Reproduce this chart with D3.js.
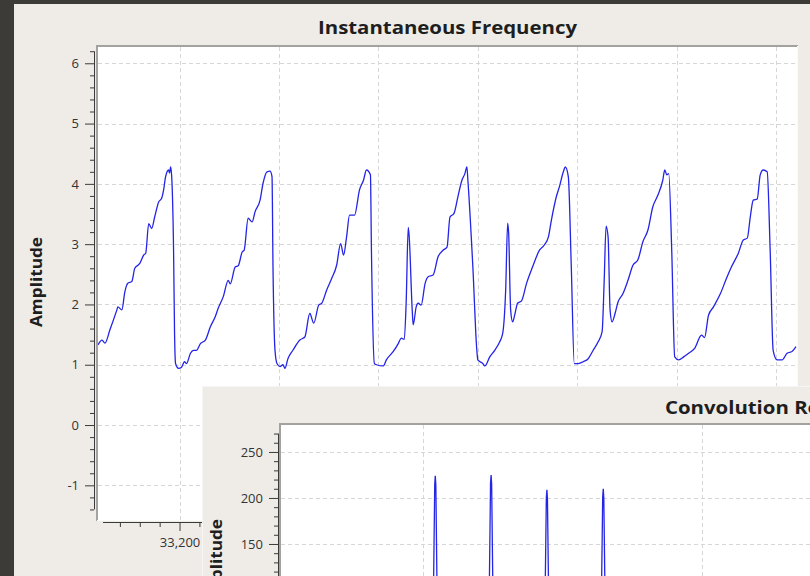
<!DOCTYPE html>
<html><head><meta charset="utf-8">
<script src="https://cdn.jsdelivr.net/npm/d3@7"></script>
<style>
html,body{margin:0;padding:0;background:#3c3b37;}
svg{display:block;}
text{font-family:"Open Sans","DejaVu Sans",sans-serif;}
</style></head>
<body>
<svg id="c" width="810" height="576"></svg>
<script>
// ---- data: Instantaneous Frequency (sample index vs amplitude) ----
const freqX = [33118,33122,33125,33130,33137,33138,33142,33145,33148,33152,33155,33160,33164,33166,33169,33172,33175,33179,33182,33184,33186,33189,33190,33191,33192,33194,33195,33196,33199,
33202,33205,33207,33211,33214,33217,33221,33226,33231,33236,33239,33244,33249,33251,33256,33259,33263,33265,33269,33273,33276,33281,33284,33288,33291,33293,33294,33296,33298,
33301,33304,33306,33309,33314,33321,33326,33331,33335,33340,33343,33348,33353,33358,33362,33365,33368,33371,33376,33381,33385,33388,33392,33393,33396,33398,
33405,33408,33415,33420,33423,33426,33428,33430,33431,33434,33435,33438,33440,33443,33447,33450,33455,33460,33465,33469,33472,33476,33480,33484,33487,33489,33490,33495,33499,33500,
33505,33507,33512,33517,33522,33525,33528,33530,33531,33533,33535,33537,33540,33544,33549,33555,33562,33567,33571,33574,33579,33582,33586,33588,33591,33594,33597,
33601,33606,33611,33616,33621,33625,33627,33629,33631,33633,33635,33638,33641,33646,33651,33656,33661,33666,33671,33676,33681,33686,33688,33690,33692,33695,33698,
33702,33707,33712,33718,33725,33728,33732,33737,33744,33750,33755,33762,33767,33771,33774,33777,33781,33784,33787,33791,33794,33797,
33801,33806,33811,33816,33820];
const freqY = [1.33,1.41,1.36,1.58,1.91,1.96,1.91,2.21,2.35,2.38,2.60,2.68,2.82,2.85,3.34,3.26,3.45,3.70,3.76,3.90,4.12,4.23,4.18,4.28,4.15,2.90,1.52,1.02,0.94,
0.96,1.05,1.02,1.19,1.24,1.24,1.35,1.41,1.63,1.80,1.94,2.13,2.40,2.34,2.62,2.64,2.87,2.90,3.43,3.37,3.54,3.73,4.01,4.20,4.21,4.12,2.62,1.24,1.02,
0.97,1.00,0.94,1.10,1.24,1.41,1.46,1.85,1.69,1.99,2.02,2.24,2.43,2.65,3.01,2.82,3.12,3.48,3.48,3.90,4.06,4.23,4.15,2.90,1.02,1.00,
0.98,1.08,1.22,1.35,1.44,1.42,2.07,3.28,3.12,1.91,1.66,1.96,2.02,1.99,2.35,2.46,2.49,2.79,2.90,2.95,3.45,3.51,3.79,4.06,4.17,4.28,4.06,2.62,1.24,1.08,
1.02,0.98,1.13,1.24,1.38,1.52,2.24,3.35,3.18,1.91,1.71,1.82,2.02,2.06,2.35,2.62,2.90,2.99,3.12,3.40,3.79,3.95,4.20,4.28,4.12,2.62,1.02,
1.02,1.05,1.10,1.24,1.38,1.55,2.35,3.30,3.12,1.91,1.71,1.85,2.04,2.18,2.40,2.65,2.74,3.04,3.23,3.62,3.81,4.06,4.23,4.15,4.17,2.90,1.13,
1.08,1.13,1.19,1.27,1.49,1.45,1.82,1.96,2.18,2.43,2.62,2.85,3.07,3.10,3.45,3.73,3.75,4.15,4.23,4.20,2.90,1.24,
1.08,1.08,1.19,1.22,1.30];
const freqYTicks = [-1,0,1,2,3,4,5,6];
const freqXTicks = [33200,33300,33400,33500,33600,33700,33800];

// ---- data: Convolution Result (partially visible window) ----
const convX = [745,1014,1019,1021,1022,1023,1025,1030,1072,1114,1119,1121,1122,1123,1125,1130,1172,1214,1219,1221,1222,1223,1225,1230,1272,1315,1320,1322,1323,1324,1326,1331,1400,1700];
const convY = [30,40,110,215,224,214,108,38,25,42,112,216,225,215,110,40,28,38,104,200,209,199,100,36,26,38,105,201,210,200,101,36,24,22];
const convYTicks = [150,200,250];
const convXTicks = [1000,1500];

const svg = d3.select("#c");
const bg = "#efece8";
const tickFmt = d => String(d).replace("\u2212","-");
svg.append("rect").attr("x",0).attr("y",0).attr("width",810).attr("height",576).attr("fill","#3c3b37");
svg.append("rect").attr("x",14).attr("y",4).attr("width",796).attr("height",572).attr("fill",bg);

// ===== main plot =====
const L=98,T=47,R=797,B=520;
const W2x=202, W2y=386;   // top-left corner of the overlapping second window
const x = d3.scaleLinear().domain([33118,33822]).range([98,798]);
const y = d3.scaleLinear().domain([-1.575,6.27]).range([B,T]);

const title = svg.append("text").attr("x",(L+R)/2).attr("y",34).attr("text-anchor","middle")
  .attr("font-size",18).attr("font-weight",700).attr("fill","#1e1e1e").text("Instantaneous Frequency");
const titleNat = title.node().getComputedTextLength();
const stretch = 259/titleNat;
title.attr("textLength",259).attr("lengthAdjust","spacingAndGlyphs");

svg.append("defs").append("clipPath").attr("id","clipMain")
  .append("rect").attr("x",L).attr("y",T).attr("width",R-L).attr("height",B-T);
svg.append("rect").attr("x",L).attr("y",T).attr("width",R-L).attr("height",B-T).attr("fill","#ffffff");

const grid = svg.append("g").attr("stroke","#d6d6d6").attr("stroke-width",1).attr("stroke-dasharray","4,3");
grid.selectAll("line.h").data(freqYTicks).join("line").attr("class","h")
  .attr("x1",L).attr("x2",R).attr("y1",d=>Math.round(y(d))+0.5).attr("y2",d=>Math.round(y(d))+0.5);
grid.selectAll("line.v").data(freqXTicks).join("line").attr("class","v")
  .attr("y1",T).attr("y2",B).attr("x1",d=>Math.round(x(d))+0.5).attr("x2",d=>Math.round(x(d))+0.5);

// sunken frame
svg.append("line").attr("x1",96).attr("x2",798).attr("y1",46).attr("y2",46).attr("stroke","#a3a29e").attr("stroke-width",2);
svg.append("line").attr("x1",97).attr("x2",97).attr("y1",45).attr("y2",521).attr("stroke","#a3a29e").attr("stroke-width",2);
svg.append("line").attr("x1",97).attr("x2",798).attr("y1",520.5).attr("y2",520.5).attr("stroke","#fbfbfa").attr("stroke-width",1);
svg.append("line").attr("x1",797.5).attr("x2",797.5).attr("y1",46).attr("y2",521).attr("stroke","#fbfbfa").attr("stroke-width",1);

const line = d3.line().x((d,i)=>x(freqX[i])).y((d,i)=>y(freqY[i])).curve(d3.curveMonotoneX);
svg.append("path").datum(freqY).attr("d",line).attr("fill","none")
  .attr("stroke","#2424e6").attr("stroke-width",1.3).attr("clip-path","url(#clipMain)");

// y axis
const yMinor = d3.range(-7,32).map(k=>+(k*0.2).toFixed(1)).filter(v=>!freqYTicks.includes(v));
const axCol = "#3a3a3a";
const gy = svg.append("g").attr("transform","translate(94,0)");
gy.append("g").call(d3.axisLeft(y).tickValues(yMinor).tickSize(4).tickSizeOuter(0).tickFormat(""));
gy.append("g").call(d3.axisLeft(y).tickValues(freqYTicks).tickSize(9).tickSizeOuter(0).tickPadding(6).tickFormat(tickFmt));
gy.selectAll(".domain").remove();
gy.append("line").attr("x1",0.5).attr("x2",0.5).attr("y1",y(6.2)).attr("y2",y(-1.4)).attr("stroke",axCol);
gy.selectAll("line").attr("stroke",axCol);
gy.selectAll("text").attr("font-size",13).attr("fill","#333").attr("font-family","'Open Sans',sans-serif");

// x axis (labels that sit under the overlapping window are left empty)
const xMinor = d3.range(33120,33821,20).filter(v=>v%100!==0 && x(v)>103);
const gx = svg.append("g").attr("transform","translate(0,522)");
gx.append("g").call(d3.axisBottom(x).tickValues(xMinor).tickSize(5).tickSizeOuter(0).tickFormat(""));
gx.append("g").call(d3.axisBottom(x).tickValues(freqXTicks).tickSize(9).tickSizeOuter(0).tickPadding(7)
  .tickFormat(d => x(d) < W2x ? d3.format(",")(d) : ""));
gx.selectAll(".domain").remove();
gx.append("line").attr("x1",103).attr("x2",798).attr("y1",0.5).attr("y2",0.5).attr("stroke",axCol);
gx.selectAll("line").attr("stroke",axCol);
gx.selectAll("text").attr("font-size",13).attr("fill","#333").attr("font-family","'Open Sans',sans-serif");

svg.append("text").attr("transform","translate(42,282) rotate(-90)").attr("text-anchor","middle")
  .attr("font-size",16).attr("font-weight",700).attr("fill","#1e1e1e")
  .attr("textLength",90).attr("lengthAdjust","spacingAndGlyphs").text("Amplitude");

// ===== overlapping second window =====
svg.append("rect").attr("x",W2x).attr("y",W2y).attr("width",810-W2x).attr("height",576-W2y).attr("fill",bg);
svg.append("line").attr("x1",W2x+0.5).attr("x2",W2x+0.5).attr("y1",W2y).attr("y2",576).attr("stroke","#f7f6f4");
svg.append("line").attr("x1",W2x).attr("x2",810).attr("y1",W2y+0.5).attr("y2",W2y+0.5).attr("stroke","#f7f6f4");

const t2 = svg.append("text").attr("x",665).attr("y",414).attr("font-size",18).attr("font-weight",700)
  .attr("fill","#1e1e1e").text("Convolution Result");
t2.attr("textLength",t2.node().getComputedTextLength()*stretch).attr("lengthAdjust","spacingAndGlyphs");

const L2=281,T2=425,R2=810,B2=576;
const x2 = d3.scaleLinear().domain([745.5,1693.5]).range([L2,R2]);
const y2 = d3.scaleLinear().domain([0,279.3]).range([682,T2]);
svg.append("rect").attr("x",L2).attr("y",T2).attr("width",R2-L2).attr("height",B2-T2).attr("fill","#fff");
svg.append("defs").append("clipPath").attr("id","clip2")
  .append("rect").attr("x",L2).attr("y",T2).attr("width",R2-L2).attr("height",B2-T2);
const grid2 = svg.append("g").attr("stroke","#d6d6d6").attr("stroke-width",1).attr("stroke-dasharray","4,3");
grid2.selectAll("line.h").data(convYTicks).join("line").attr("class","h")
  .attr("x1",L2).attr("x2",R2).attr("y1",d=>Math.round(y2(d))+0.5).attr("y2",d=>Math.round(y2(d))+0.5);
grid2.selectAll("line.v").data(convXTicks).join("line").attr("class","v")
  .attr("y1",T2).attr("y2",B2).attr("x1",d=>Math.round(x2(d))+0.5).attr("x2",d=>Math.round(x2(d))+0.5);
svg.append("line").attr("x1",L2-1).attr("x2",R2).attr("y1",T2-1).attr("y2",T2-1).attr("stroke","#a3a29e").attr("stroke-width",2);
svg.append("line").attr("x1",L2-1).attr("x2",L2-1).attr("y1",T2-2).attr("y2",B2).attr("stroke","#a3a29e").attr("stroke-width",2);

const line2 = d3.line().x((d,i)=>x2(convX[i])).y((d,i)=>y2(convY[i]));
svg.append("path").datum(convY).attr("d",line2).attr("fill","none")
  .attr("stroke","#2424e6").attr("stroke-width",1.3).attr("clip-path","url(#clip2)");

const y2Minor = d3.range(120,280,10).filter(v=>v%50!==0);
const gy2 = svg.append("g").attr("transform","translate(278,0)");
gy2.append("g").call(d3.axisLeft(y2).tickValues(y2Minor).tickSize(4).tickSizeOuter(0).tickFormat(""));
gy2.append("g").call(d3.axisLeft(y2).tickValues(convYTicks).tickSize(9).tickSizeOuter(0).tickPadding(6).tickFormat(tickFmt));
gy2.selectAll(".domain").remove();
gy2.append("line").attr("x1",0.5).attr("x2",0.5).attr("y1",y2(270)).attr("y2",576).attr("stroke",axCol);
gy2.selectAll("line").attr("stroke",axCol);
gy2.selectAll("text").attr("font-size",13).attr("fill","#333").attr("font-family","'Open Sans',sans-serif");

svg.append("text").attr("transform","translate(222,519) rotate(-90)").attr("text-anchor","end")
  .attr("font-size",16).attr("font-weight",700).attr("fill","#1e1e1e")
  .attr("textLength",90).attr("lengthAdjust","spacingAndGlyphs").text("Amplitude");
</script>
</body></html>
